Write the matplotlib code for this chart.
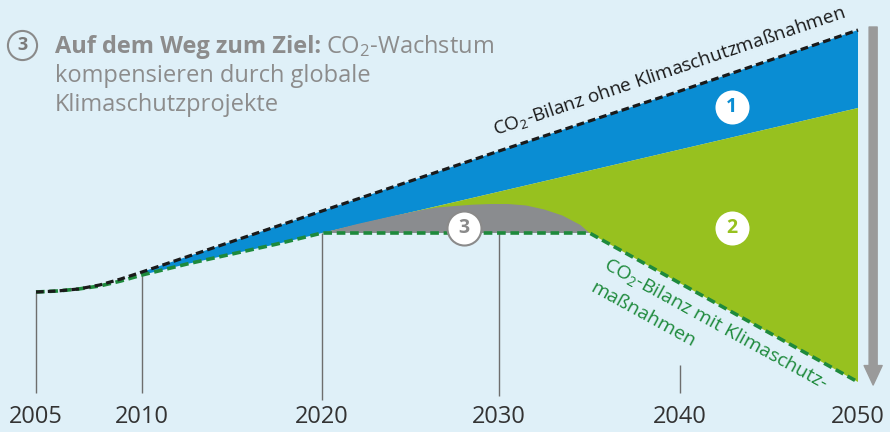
"""
CO2-Bilanz: Auf dem Weg zum Ziel (Schritt 3)
"""

import numpy as np
import matplotlib
matplotlib.use("Agg")
import matplotlib.pyplot as plt

plt.rcParams['font.family'] = ['Open Sans', 'DejaVu Sans']
plt.rcParams['mathtext.fontset'] = 'custom'
plt.rcParams['mathtext.rm'] = 'Open Sans'
plt.rcParams['mathtext.it'] = 'Open Sans'

# --- data (arbitrary CO2 units) ---
years_ohne = [2005, 2006, 2007, 2008, 2009, 2010, 2020, 2030, 2040, 2050]
co2_ohne = [108, 109, 111, 115, 121, 128, 189, 249, 309, 370]

years_mit = [2005, 2006, 2007, 2008, 2009, 2010, 2012.5, 2015, 2017.5, 2020, 2035, 2050]
co2_mit = [108, 109, 111, 114, 119, 125, 136, 146, 156, 167, 167, 18]

# border between area 1 (blue) and area 2 (green)
years_split = [2020, 2050]
co2_split = [167, 292]

# upper edge of area 3 (grey)
years_proj = [2020, 2022, 2024, 2025.5, 2026.5, 2027.5, 2028.5, 2029.5,
              2030.5, 2031.5, 2032.5, 2033.5, 2034.5, 2035]
co2_proj = [167, 176, 184, 189.5, 192.5, 194, 195.3, 196,
            196, 194.5, 190.5, 184.5, 175, 167]

tick_years = [2005, 2010, 2020, 2030, 2040, 2050]
tick_labels = ['2005', '2010', '2020', '2030', '2040', '2050']

# --- style ---
BG = '#dff0f8'
BLUE = '#0a8dd3'
GREEN = '#97c11f'
GREY = '#8a8c8f'
DGREEN = '#1e8a3c'
TXTGREY = '#8c8c8c'

W, H = 890, 432
# the time axis is not linear: pixel column of each tick year
tick_px = [36, 142, 322, 499, 680, 858]
ext_years = [2000] + tick_years + [2055]
ext_px = [36 - 106] + tick_px + [858 + 89]


def fwd(x):
    return np.interp(x, ext_years, ext_px)


def inv(p):
    return np.interp(p, ext_px, ext_years)


def px(x, y):
    """pixel position -> axes fraction (for free-standing labels)"""
    return x / W, 1 - y / H


fig = plt.figure(figsize=(W / 100, H / 100), dpi=100, facecolor=BG)
ax = fig.add_axes([0, 0, 1, 1])
ax.set_xscale('function', functions=(fwd, inv))
ax.set_xlim(inv(0), inv(W))
ax.set_ylim(-32, 400)
ax.axis('off')

# area 1: blue, between "ohne" and the lower border
i10 = years_ohne.index(2010)
j10 = years_mit.index(2010)
j20 = years_mit.index(2020)
bx = years_ohne[i10:] + years_split[::-1] + years_mit[j10:j20 + 1][::-1]
by = co2_ohne[i10:] + co2_split[::-1] + co2_mit[j10:j20 + 1][::-1]
ax.fill(bx, by, color=BLUE, lw=0)

# area 2: green
gx = years_split + years_mit[j20:][::-1]
gy = co2_split + co2_mit[j20:][::-1]
ax.fill(gx, gy, color=GREEN, lw=0)

# area 3: grey
ax.fill(years_proj, co2_proj, color=GREY, lw=0)

# vertical year lines
ax.vlines(tick_years[:4], [7, 7, 0, 4], [108, 125, 167, 167], color='#6e6e6e', lw=1)
ax.vlines([2040], [7], [35], color='#6e6e6e', lw=1)

# balance lines
ax.plot(years_mit, co2_mit, color=DGREEN, lw=2.6, dashes=(2.4, 1.3))
ax.plot(years_ohne, co2_ohne, color='#1a1a1a', lw=2.3, dashes=(2.4, 1.3))

# year labels
for yr, lab in zip(tick_years, tick_labels):
    ax.text(yr, -17, lab, ha='center', va='center', fontsize=17, color='#333333')

# grey arrow on the right
ax.annotate('', xy=(2050.85, 15), xytext=(2050.85, 373),
            arrowprops=dict(width=5.8, headwidth=13, headlength=14,
                            color='#9a9a9a', shrink=0))

# numbered circles
ax.scatter([2042.9, 2042.9], [293, 172], s=600, color='white', zorder=5, lw=0)
ax.scatter([2028.0], [172], s=600, color='white', edgecolor='#8a8a8a', lw=1.5, zorder=5)
ax.text(2042.9, 293, '1', ha='center', va='center', fontsize=14,
        fontweight='bold', color=BLUE, zorder=6)
ax.text(2042.9, 172, '2', ha='center', va='center', fontsize=14,
        fontweight='bold', color=GREEN, zorder=6)
ax.text(2028.0, 172, '3', ha='center', va='center', fontsize=14,
        fontweight='bold', color='#8a8a8a', zorder=6)

# line labels
ax.text(*px(495, 135), r'CO$_2$-Bilanz ohne Klimaschutzmaßnahmen', transform=ax.transAxes,
        rotation=18.6, rotation_mode='anchor', ha='left', va='baseline',
        fontsize=13.7, color='#1a1a1a')
ax.text(*px(602, 268), r'CO$_2$-Bilanz mit Klimaschutz-', transform=ax.transAxes,
        rotation=-28.8, rotation_mode='anchor', ha='left', va='baseline',
        fontsize=14, color=DGREEN)
ax.text(*px(589, 291), 'maßnahmen', transform=ax.transAxes,
        rotation=-28.8, rotation_mode='anchor', ha='left', va='baseline',
        fontsize=14, color=DGREEN)

# title
ax.scatter(*px(22, 45), s=440, transform=ax.transAxes, facecolor=BG,
           edgecolor='#8a8a8a', lw=1.5, zorder=5)
ax.text(*px(22, 45), '3', transform=ax.transAxes, ha='center', va='center',
        fontsize=13, fontweight='bold', color='#7a7a7a', zorder=6)
t1 = ax.text(*px(55, 53), 'Auf dem Weg zum Ziel:', transform=ax.transAxes,
             ha='left', va='baseline', fontsize=17, fontweight='bold', color=TXTGREY)
fig.canvas.draw()
bb = t1.get_window_extent(renderer=fig.canvas.get_renderer())
ax.text((bb.x1 + 5) / W, 1 - 53 / H, r'CO$_2$-Wachstum', transform=ax.transAxes,
        ha='left', va='baseline', fontsize=17, color=TXTGREY)
ax.text(*px(55, 82), 'kompensieren durch globale', transform=ax.transAxes,
        ha='left', va='baseline', fontsize=17, color=TXTGREY)
ax.text(*px(55, 111), 'Klimaschutzprojekte', transform=ax.transAxes,
        ha='left', va='baseline', fontsize=17, color=TXTGREY)

fig.savefig('out.png', dpi=100, facecolor=BG)
